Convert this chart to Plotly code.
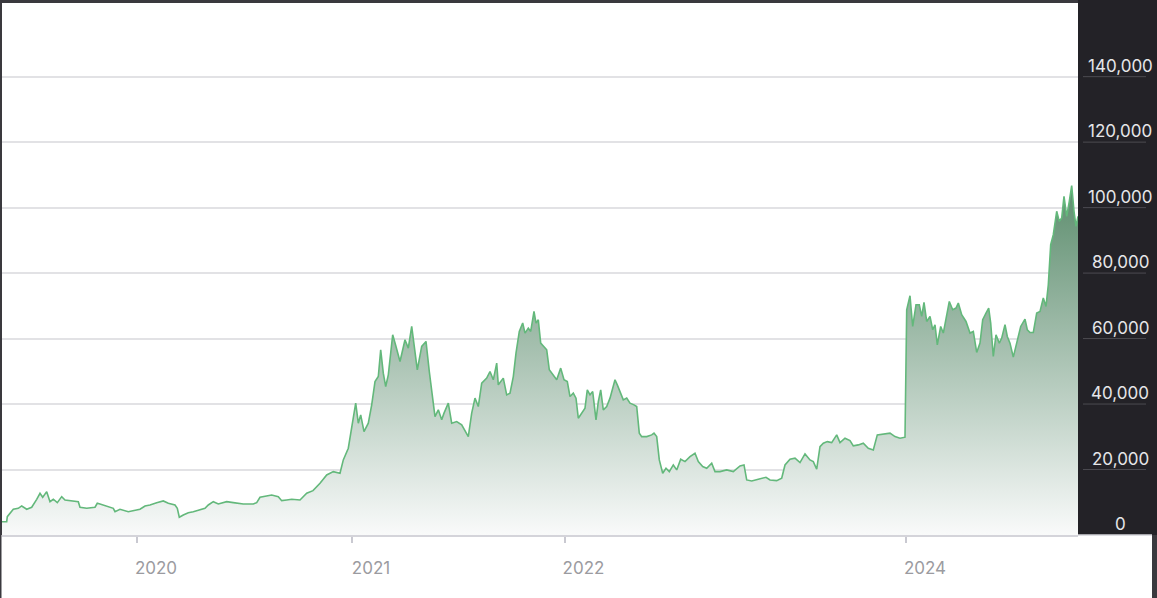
import plotly.graph_objects as go

# ---- data (position along the series, price in USD) ----
t_2019_20 = [0, 4.7, 5.3, 11.3, 16.3, 19.7, 24.7, 29.7, 34.7, 38, 40.7, 44.7, 48, 51.3, 55.3, 59.7, 63, 68, 76.3, 78,
             84.7, 93, 95.3, 98, 104.7, 111.3, 113, 118, 126.3, 133, 138, 143, 148, 154.7, 161.3, 166.3, 173, 175.3, 177.3, 181.3,
             186.3, 191.3, 198, 203, 206.3, 211.3, 216.3, 224.7, 231.3, 241.3, 251.3, 254.7, 258, 264.7, 269.7, 276.3, 279.7, 284.7, 289.7, 298]
p_2019_20 = [4070, 4070, 5600, 7860, 8160, 8870, 7860, 8470, 10900, 12750, 11530, 13240, 10180, 10920, 9880, 11720, 10700, 10490, 10180, 8470,
             8160, 8470, 9690, 9480, 8870, 8160, 7130, 7860, 7130, 7650, 7860, 8870, 9170, 9880, 10400, 9690, 9170, 8160, 5410, 6120,
             6820, 7130, 7650, 8160, 9170, 10180, 9480, 10180, 9880, 9480, 9480, 9880, 11530, 11930, 12230, 11720, 10490, 10700, 10920, 10700]

t_2021 = [304.7, 311, 318, 324.7, 331.3, 338, 341.3, 346.3, 349.7, 353.7, 356.3, 358.7, 362, 366.3, 369.7, 373, 376.3, 378.7, 381.3, 383.7,
          386.3, 390.7, 394, 398, 403, 406.3, 409.7, 412, 415.3, 419.7, 424, 427.3, 430.7, 433, 436.3, 439.7, 442, 446.3, 449.7, 454.7,
          459.7, 466.3, 469.7, 473, 476.3, 479.7, 484.7, 488, 491.3, 494.7, 496.3, 501.3, 504.7, 508]
p_2021 = [12750, 13550, 15810, 18350, 19360, 18860, 22930, 26510, 33120, 40270, 34150, 36700, 31590, 34150, 39750, 46880, 48410, 56570, 49440, 45350,
          48930, 61160, 57590, 53000, 59630, 57080, 63700, 58610, 50460, 57590, 59120, 49940, 41280, 36180, 38230, 35170, 37220, 40270, 34150, 34660,
          33640, 30060, 37220, 41800, 39240, 46390, 47920, 49940, 47400, 52510, 45870, 47920, 42810, 43330]

t_2022_23 = [511.3, 514, 517.3, 520.7, 523, 526.3, 528.7, 532, 534, 536.3, 538.7, 541.3, 544.7, 547.3, 550.7, 554.7, 558.7, 562, 565.3, 568,
             571.3, 574, 576.3, 579.7, 583, 585.3, 588, 590.7, 594, 596.3, 598.7, 601.3, 604.7, 608, 613, 615.3, 618, 621.3, 624.7, 628,
             632, 634.7, 637.3, 639.7, 644.7, 649.7, 652, 654.7, 657.3, 660.7, 664, 667.3, 671.3, 674.7, 678.7, 683, 688, 693, 696.3, 700.7,
             704.7, 709.7, 713, 718, 724.7, 731.3, 738, 742, 744.7, 749.7, 756.3, 764, 768, 774.7, 779.7, 783, 788, 793, 798, 803,
             808, 811.3, 814.7, 818, 821.3, 825.3, 829.7, 834.7, 838, 843, 848, 851.3, 856.3, 861.3, 866.3, 871.3, 875.3, 881.3, 888, 893,
             898, 903]
p_2022_23 = [48400, 55560, 62180, 64740, 61680, 63210, 62180, 68290, 64740, 65750, 58610, 57590, 56570, 50460, 48930, 47400, 50970, 47400, 46880, 42300,
             43330, 41800, 35680, 37220, 38740, 44340, 42810, 43820, 35170, 40760, 44340, 38230, 39240, 41800, 47400, 45870, 43820, 41280, 41800, 40270,
             39750, 39240, 31100, 30060, 30060, 30580, 31100, 30060, 22930, 18870, 20400, 19360, 21400, 19880, 23150, 22420, 23950, 24980, 22420, 20890,
             20400, 21930, 19360, 19360, 19880, 19360, 21100, 21400, 16820, 16510, 17030, 17640, 16820, 16610, 17340, 21400, 23150, 23450, 22110, 24770,
             22940, 22420, 20090, 27000, 28040, 28530, 28230, 30580, 28230, 29570, 28840, 27220, 27520, 28040, 26510, 25990, 30580, 30890, 31100, 30060,
             29570, 29880]

t_2024 = [904.7, 908, 910.7, 914, 917.3, 919.7, 922, 924.7, 928, 930.7, 933, 935.3, 938.7, 941.3, 944.7, 947.3, 950.7, 954, 956.3, 959.7,
          964, 968, 971.3, 974.7, 978, 980.7, 984, 986.7, 988.7, 991.3, 994, 997.3, 999.7, 1003, 1005.3, 1008, 1011.3, 1014.7, 1018.7, 1023,
          1025.3, 1028, 1031.3, 1034.7, 1038, 1041.3, 1044, 1046.3, 1048.7, 1051.3, 1054.7, 1057.3, 1059.7, 1062, 1064.7, 1067.3, 1069.7, 1072, 1074, 1076]
p_2024 = [68800, 73090, 63700, 70330, 70330, 66760, 71040, 65230, 66760, 62690, 64220, 58100, 63700, 61680, 66760, 71340, 68800, 69320, 70860, 67280,
          65230, 61680, 62180, 55750, 58610, 65750, 67800, 69320, 64740, 54520, 61160, 58610, 60150, 64220, 60640, 58610, 54340, 59120, 63700, 65960,
          62690, 61870, 61870, 67800, 68290, 72390, 69820, 76450, 88680, 91740, 98870, 95810, 96840, 103440, 97330, 101920, 106700, 98870, 94280, 97330]

x_tick_pos = [135, 350, 562.5, 904]
x_tick_text = ["2020", "2021", "2022", "2024"]
y_ticks = [0, 20000, 40000, 60000, 80000, 100000, 120000, 140000]
y_tick_text = ["0", "20,000", "40,000", "60,000", "80,000", "100,000", "120,000", "140,000"]

X_MAX = 1076
Y_MAX = 162500

t = t_2019_20 + t_2021 + t_2022_23 + t_2024
price = p_2019_20 + p_2021 + p_2022_23 + p_2024
assert len(t) == len(price)

FONT = "Inter, Roboto, sans-serif"

fig = go.Figure(go.Scatter(
    x=t, y=price, mode="lines",
    line=dict(color="#63b87b", width=1.6),
    fill="tozeroy",
    fillgradient=dict(type="vertical",
                      colorscale=[[0, "#f9fafa"], [1, "#5e8e6f"]],
                      start=0, stop=106000),
    hoverinfo="skip",
))

W, H = 1157, 598
ML, MR, MT, MB = 2, 79, 3, 63
PW = W - ML - MR


def px_x(px):
    return (px - ML) / PW


shapes = [
    # dark right panel behind the y labels
    dict(type="rect", xref="paper", yref="paper", x0=1.0, x1=1.1, y0=0, y1=1.02,
         fillcolor="#232227", line=dict(width=0), layer="below"),
    # white band under the plot
    dict(type="rect", xref="paper", yref="paper", x0=px_x(1.5), x1=px_x(1152), y0=-0.2, y1=0,
         fillcolor="white", line=dict(width=0), layer="below"),
    # baseline continuing under the panel
    dict(type="line", xref="paper", yref="paper", x0=1.0, x1=px_x(1152), y0=0, y1=0,
         line=dict(color="#d4d4da", width=1.5)),
]
for v in y_ticks[1:]:
    shapes.append(dict(type="line", xref="paper", yref="paper",
                       x0=px_x(1083), x1=px_x(1146), y0=v / Y_MAX, y1=v / Y_MAX,
                       line=dict(color="#4c4b51", width=1)))

annotations = [
    dict(x=px_x(1120), xref="paper", y=v, yref="y", yshift=11, text=lbl,
         showarrow=False, xanchor="center", yanchor="middle",
         font=dict(family=FONT, size=17, color="#e6e6e9"))
    for v, lbl in zip(y_ticks, y_tick_text)
]

fig.update_layout(
    width=W, height=H,
    margin=dict(l=ML, r=MR, t=MT, b=MB),
    paper_bgcolor="#3a393e",
    plot_bgcolor="white",
    showlegend=False,
    shapes=shapes,
    annotations=annotations,
    xaxis=dict(range=[0, X_MAX], tickmode="array", tickvals=x_tick_pos, ticktext=x_tick_text,
               ticks="outside", ticklen=6, tickwidth=1.5, tickcolor="#c9c9d1",
               showline=True, linecolor="#d4d4da", linewidth=1.5,
               showgrid=False, zeroline=False,
               tickfont=dict(family=FONT, size=17, color="#9b9ba0"),
               ticklabelshift=19, ticklabelstandoff=11, fixedrange=True),
    yaxis=dict(range=[0, Y_MAX], tickmode="array", tickvals=y_ticks, showticklabels=False,
               showgrid=True, gridcolor="#e2e2e5", gridwidth=1.5, zeroline=False,
               ticks="", fixedrange=True),
)

fig.write_html(
    "out.html",
    config={"displayModeBar": False},
    post_script="document.body.style.margin='0';document.body.style.overflow='hidden';",
)
